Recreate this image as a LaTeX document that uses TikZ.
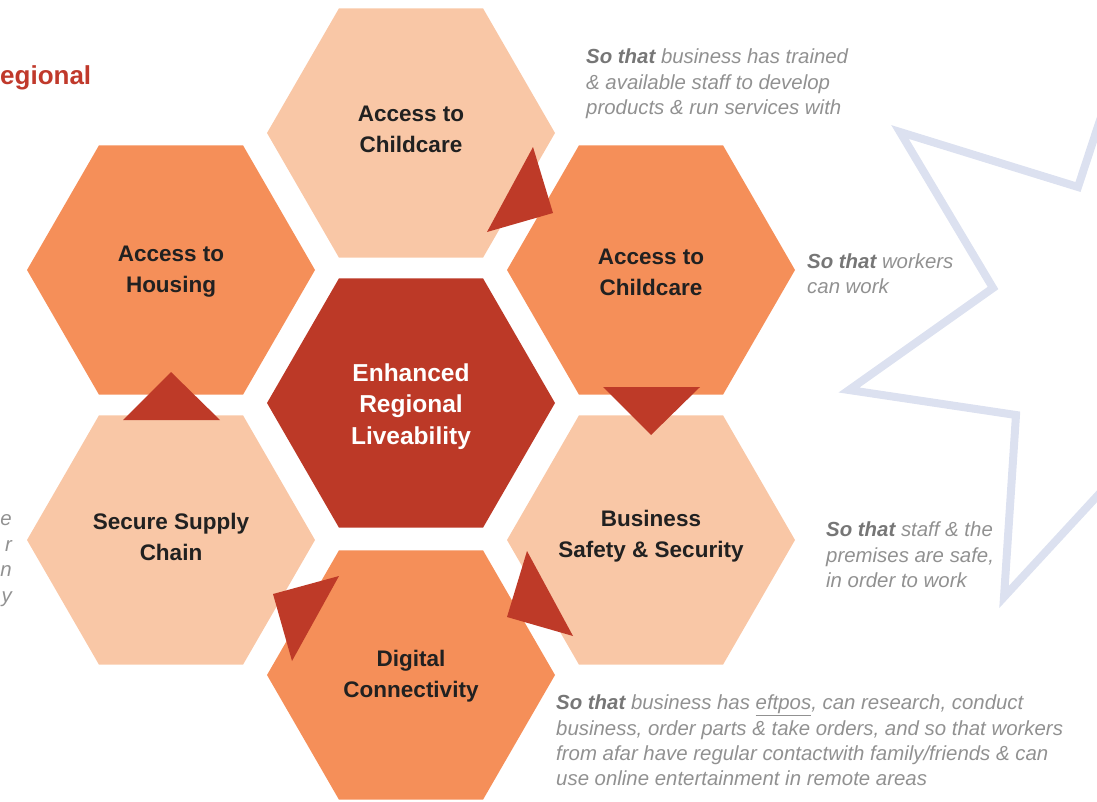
\documentclass[tikz,border=0pt]{standalone}
\usepackage{fontspec}
\setmainfont{Liberation Sans}
\usetikzlibrary{shapes.geometric}
\definecolor{peach}{RGB}{249,199,166}
\definecolor{orng}{RGB}{245,143,89}
\definecolor{dred}{RGB}{188,57,39}
\definecolor{arrowred}{RGB}{190,58,40}
\definecolor{starc}{RGB}{220,225,240}
\definecolor{anno}{RGB}{145,145,145}
\definecolor{annob}{RGB}{118,118,118}
\definecolor{labc}{RGB}{33,33,33}
\definecolor{headred}{RGB}{192,57,43}
\newcommand{\sothatlbl}{{\bfseries\color{annob}So that}}
\begin{document}
\begin{tikzpicture}[x=1pt,y=-1pt,
  hexa/.style={regular polygon, regular polygon sides=6, minimum size=288pt,
    inner sep=0pt},
  hexlabel/.style={inner sep=0pt, align=center, text=labc,
    font=\bfseries\fontsize{22.5}{31}\selectfont},
  annot/.style={anchor=north west, inner sep=0pt, align=left, text=anno,
    font=\itshape\fontsize{20.4}{25.3}\selectfont},
  tri/.style={fill=arrowred}]
\useasboundingbox (0,0) rectangle (1097,801);
\clip (0,0) rectangle (1097,801);
% star outline
\draw[starc, line width=8pt, line join=miter, miter limit=20]
  (1104,108) -- (1078,187) -- (900,132) -- (993,288) -- (849,390)
  -- (1016,415) -- (1004,597) -- (1112,480);
% hexagons
\node[hexa, fill=peach] (top) at (411,133) {};
\node[hexa, fill=orng] (house) at (171,270) {};
\node[hexa, fill=orng] (child) at (651,270) {};
\node[hexa, fill=dred] (center) at (411,403) {};
\node[hexa, fill=peach] (supply) at (171,540) {};
\node[hexa, fill=peach] (safety) at (651,540) {};
\node[hexa, fill=orng] (digital) at (411,675) {};
% hexagon labels
\node[hexlabel] (top-l) at (411,129) {Access to\\Childcare};
\node[hexlabel] (house-l) at (171,272) {Access to\\Housing};
\node[hexlabel] (child-l) at (651,272) {Access to\\Childcare};
\node[hexlabel, text=white, font=\bfseries\fontsize{24.5}{31.5}\selectfont]
  (center-l) at (411,406.5) {Enhanced\\Regional\\Liveability};
\node[hexlabel] (supply-l) at (171,536.5) {Secure Supply\\Chain};
\node[hexlabel] (safety-l) at (651,536.5) {Business\\Safety \& Security};
\node[hexlabel] (digital-l) at (411,676.5) {Digital\\Connectivity};
% arrow triangles
\fill[tri] (533,147) -- (553,213) -- (487,232) -- cycle;
\fill[tri] (603,387) -- (700,387) -- (651,435) -- cycle;
\fill[tri] (527,551) -- (573,636) -- (507,617) -- cycle;
\fill[tri] (273,594) -- (339,576) -- (292,661) -- cycle;
\fill[tri] (123,420) -- (220,420) -- (171,372) -- cycle;
% heading fragment
\node[anchor=base west, inner sep=0pt, text=headred,
  font=\bfseries\fontsize{26}{30}\selectfont] (head) at (0,84) {egional};
% annotations
\node[annot] (a1) at (586,48.8) {\sothatlbl{} business has trained\\
  \& available staff to develop\\ products \& run services with};
\node[annot] (a2) at (807,253.3) {\sothatlbl{} workers\\ can work};
\node[annot] (a3) at (826,521.8) {\sothatlbl{} staff \& the\\ premises are safe,\\ in order to work};
\node[annot] (a4) at (556,694.8) {\sothatlbl{} business has \underline{eftpos}, can research, conduct\\
  business, order parts \& take orders, and so that workers\\
  from afar have regular contactwith family/friends \& can\\
  use online entertainment in remote areas};
% fragments at left edge
\node[anchor=north east, inner sep=0pt, align=right, text=anno,
  font=\itshape\fontsize{20.4}{25.5}\selectfont] (frag) at (12,514.5) {e\\r\\n\\y};
\end{tikzpicture}
\end{document}
